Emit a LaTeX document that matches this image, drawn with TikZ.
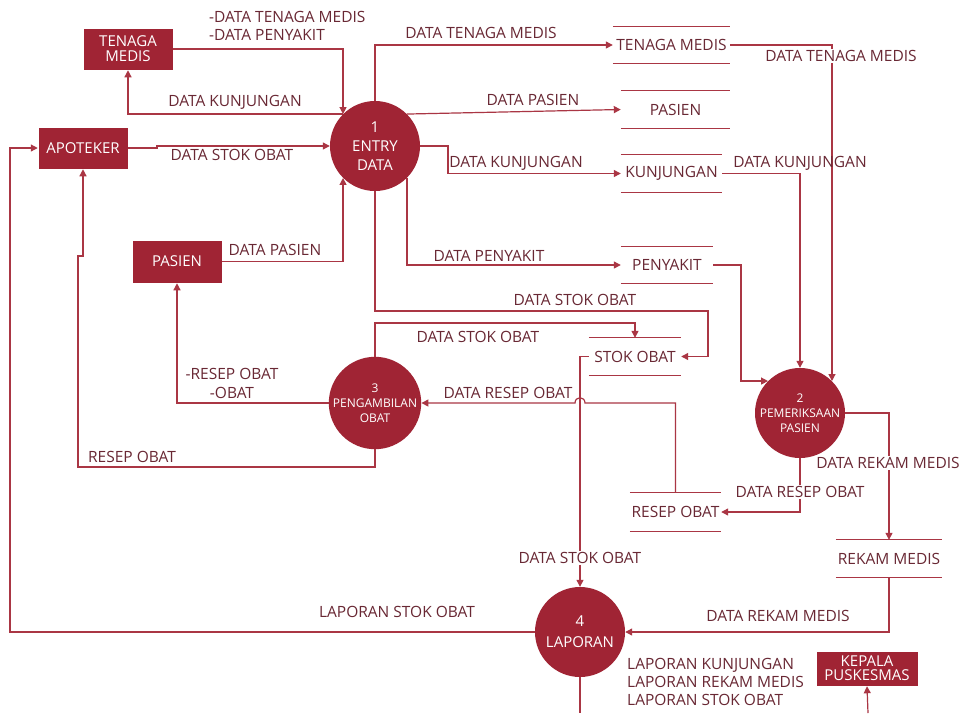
\documentclass[tikz,border=0pt]{standalone}
\usepackage{fontspec}
\setmainfont{Open Sans}
\usetikzlibrary{arrows.meta}
\definecolor{fillred}{RGB}{160,36,52}
\definecolor{linered}{RGB}{170,54,68}
\definecolor{labeltext}{RGB}{105,40,52}
\begin{document}
\begin{tikzpicture}[x=1pt,y=-1pt,
  lbl/.style={text=labeltext,font=\fontsize{15.5}{18}\selectfont,inner sep=1pt},
  wlbl/.style={lbl,fill=white},
  entity/.style={fill=fillred,text=white,draw=white,line width=0.5pt,font=\fontsize{15}{17}\selectfont,align=center,inner sep=0pt},
  proc/.style={circle,fill=fillred,text=white,minimum size=90pt,inner sep=0pt,align=center},
  store/.style={text=labeltext,font=\fontsize{15.5}{18}\selectfont,minimum height=36pt,inner sep=0pt},
  sline/.style={draw=linered,line width=1.2pt},
  flow/.style={draw=linered,line width=1.2pt,-{Triangle[length=7pt,width=7pt]}},
  plain/.style={draw=linered,line width=1.2pt}]
\useasboundingbox (0,0) rectangle (959,713);
\fill[white] (0,0) rectangle (959,713);
% entities
\node[entity,minimum width=90pt,minimum height=42pt] (tm) at (128,49) {TENAGA\\[-2pt]MEDIS};
\node[entity,minimum width=90pt,minimum height=42pt] (apo) at (83,148) {APOTEKER};
\node[entity,minimum width=90pt,minimum height=43pt] (pas) at (177,261.5) {PASIEN};
\node[entity,minimum width=102pt,minimum height=35pt] (kp) at (867,668.5) {KEPALA\\[-3pt]PUSKESMAS};
% processes
\node[proc,font=\fontsize{15}{19}\selectfont] (p1) at (375,146) {1\\ENTRY\\DATA};
\node[proc,font=\fontsize{12}{15}\selectfont] (p3) at (375,403) {3\\PENGAMBILAN\\OBAT};
\node[proc,font=\fontsize{12}{15}\selectfont] (p2) at (800,413) {2\\PEMERIKSAAN\\PASIEN};
\node[proc,font=\fontsize{15}{21}\selectfont] (p4) at (580,632) {4\\LAPORAN};
% stores
\node[store,minimum width=117pt] (stm) at (671.5,45) {TENAGA MEDIS};
\node[store,minimum width=109pt,minimum height=37pt] (spas) at (675.5,109.5) {PASIEN};
\node[store,minimum width=101pt,minimum height=37pt] (skun) at (671.5,173.5) {KUNJUNGAN};
\node[store,minimum width=92pt] (speny) at (667,265) {PENYAKIT};
\node[store,minimum width=92pt,minimum height=37pt] (sstok) at (635,356.5) {STOK OBAT};
\node[store,minimum width=91pt,minimum height=38pt] (sresep) at (675.5,512) {RESEP OBAT};
\node[store,minimum width=106pt,minimum height=37pt] (srekam) at (889,558.5) {REKAM MEDIS};
\foreach \s in {stm,spas,skun,speny,sstok,sresep,srekam}{
  \draw[sline] (\s.north west) -- (\s.north east) (\s.south west) -- (\s.south east);
}
% flows
\draw[flow] (tm.east) -| (p1.135);
\draw[flow] (p1.135) -| (tm.south);
\draw[flow] (apo.east) -- (157,148) -- (157,146) -- (p1.west);
\draw[flow] (pas.east) -| (p1.225);
\draw[flow] (p1.north) |- (stm.west);
\draw[flow] (p1.45) -- (spas.west);
\draw[flow] (p1.east) -- (448,146) |- (skun.west);
\draw[flow] (p1.-45) |- (speny.west);
\draw[flow] (p1.south) |- (708,311) |- (sstok.east);
\draw[flow] (p3.north) |- (635,323) -- (sstok.north);
\draw[flow] (sstok.west) -| (p4.north);
\draw[flow] (sresep.north) -- (675.5,403) -- (585,403) .. controls (585,396) and (575,396) .. (575,403) -- (p3.east);
\draw[flow] (p2.south) |- (sresep.east);
\draw[flow] (p2.east) -| (srekam.north);
\draw[flow] (srekam.south) |- (p4.east);
\draw[flow] (p4.west) -| (10,148) -- (apo.west);
\draw[flow] (p3.south) |- (78,467) |- (83,256) -- (apo.south);
\draw[flow] (p3.west) -| (pas.south);
\draw[flow] (skun.east) -| (p2.north);
\draw[flow] (stm.east) -| (p2.45);
\draw[flow] (speny.east) -- (741,265) |- (p2.135);
\coordinate (p4end) at (580,713);
\coordinate (kpstart) at (868,713);
\draw[plain] (p4.south) -- (p4end);
\draw[flow] (kpstart) -- (kp.south);
% labels
\node[lbl,anchor=west,align=left] (l1) at (208,26) {-DATA TENAGA MEDIS\\-DATA PENYAKIT};
\node[lbl] (l2) at (235,102) {DATA KUNJUNGAN};
\node[lbl] (l3) at (232,155) {DATA STOK OBAT};
\node[lbl] (l4) at (275,250) {DATA PASIEN};
\node[lbl] (l5) at (481,33) {DATA TENAGA MEDIS};
\node[lbl] (l6) at (533,100) {DATA PASIEN};
\node[lbl] (l7) at (516,163) {DATA KUNJUNGAN};
\node[lbl] (l8) at (489,256) {DATA PENYAKIT};
\node[lbl] (l9) at (575,300) {DATA STOK OBAT};
\node[lbl] (l10) at (478,337) {DATA STOK OBAT};
\node[lbl] (l11) at (508,393) {DATA RESEP OBAT};
\node[wlbl] (l12) at (580,558) {DATA STOK OBAT};
\node[wlbl] (l13) at (841,56) {DATA TENAGA MEDIS};
\node[lbl] (l14) at (800,163) {DATA KUNJUNGAN};
\node[wlbl] (l15) at (800,492) {DATA RESEP OBAT};
\node[wlbl] (l16) at (888,463) {DATA REKAM MEDIS};
\node[lbl] (l17) at (778,616) {DATA REKAM MEDIS};
\node[lbl] (l18) at (397,612) {LAPORAN STOK OBAT};
\node[lbl] (l19) at (132,457) {RESEP OBAT};
\node[lbl,align=center,font=\fontsize{15.5}{19}\selectfont] (l20) at (232,383) {-RESEP OBAT\\-OBAT};
\node[lbl,anchor=west,align=left] (l21) at (626,682) {LAPORAN KUNJUNGAN\\LAPORAN REKAM MEDIS\\LAPORAN STOK OBAT};
\end{tikzpicture}
\end{document}
